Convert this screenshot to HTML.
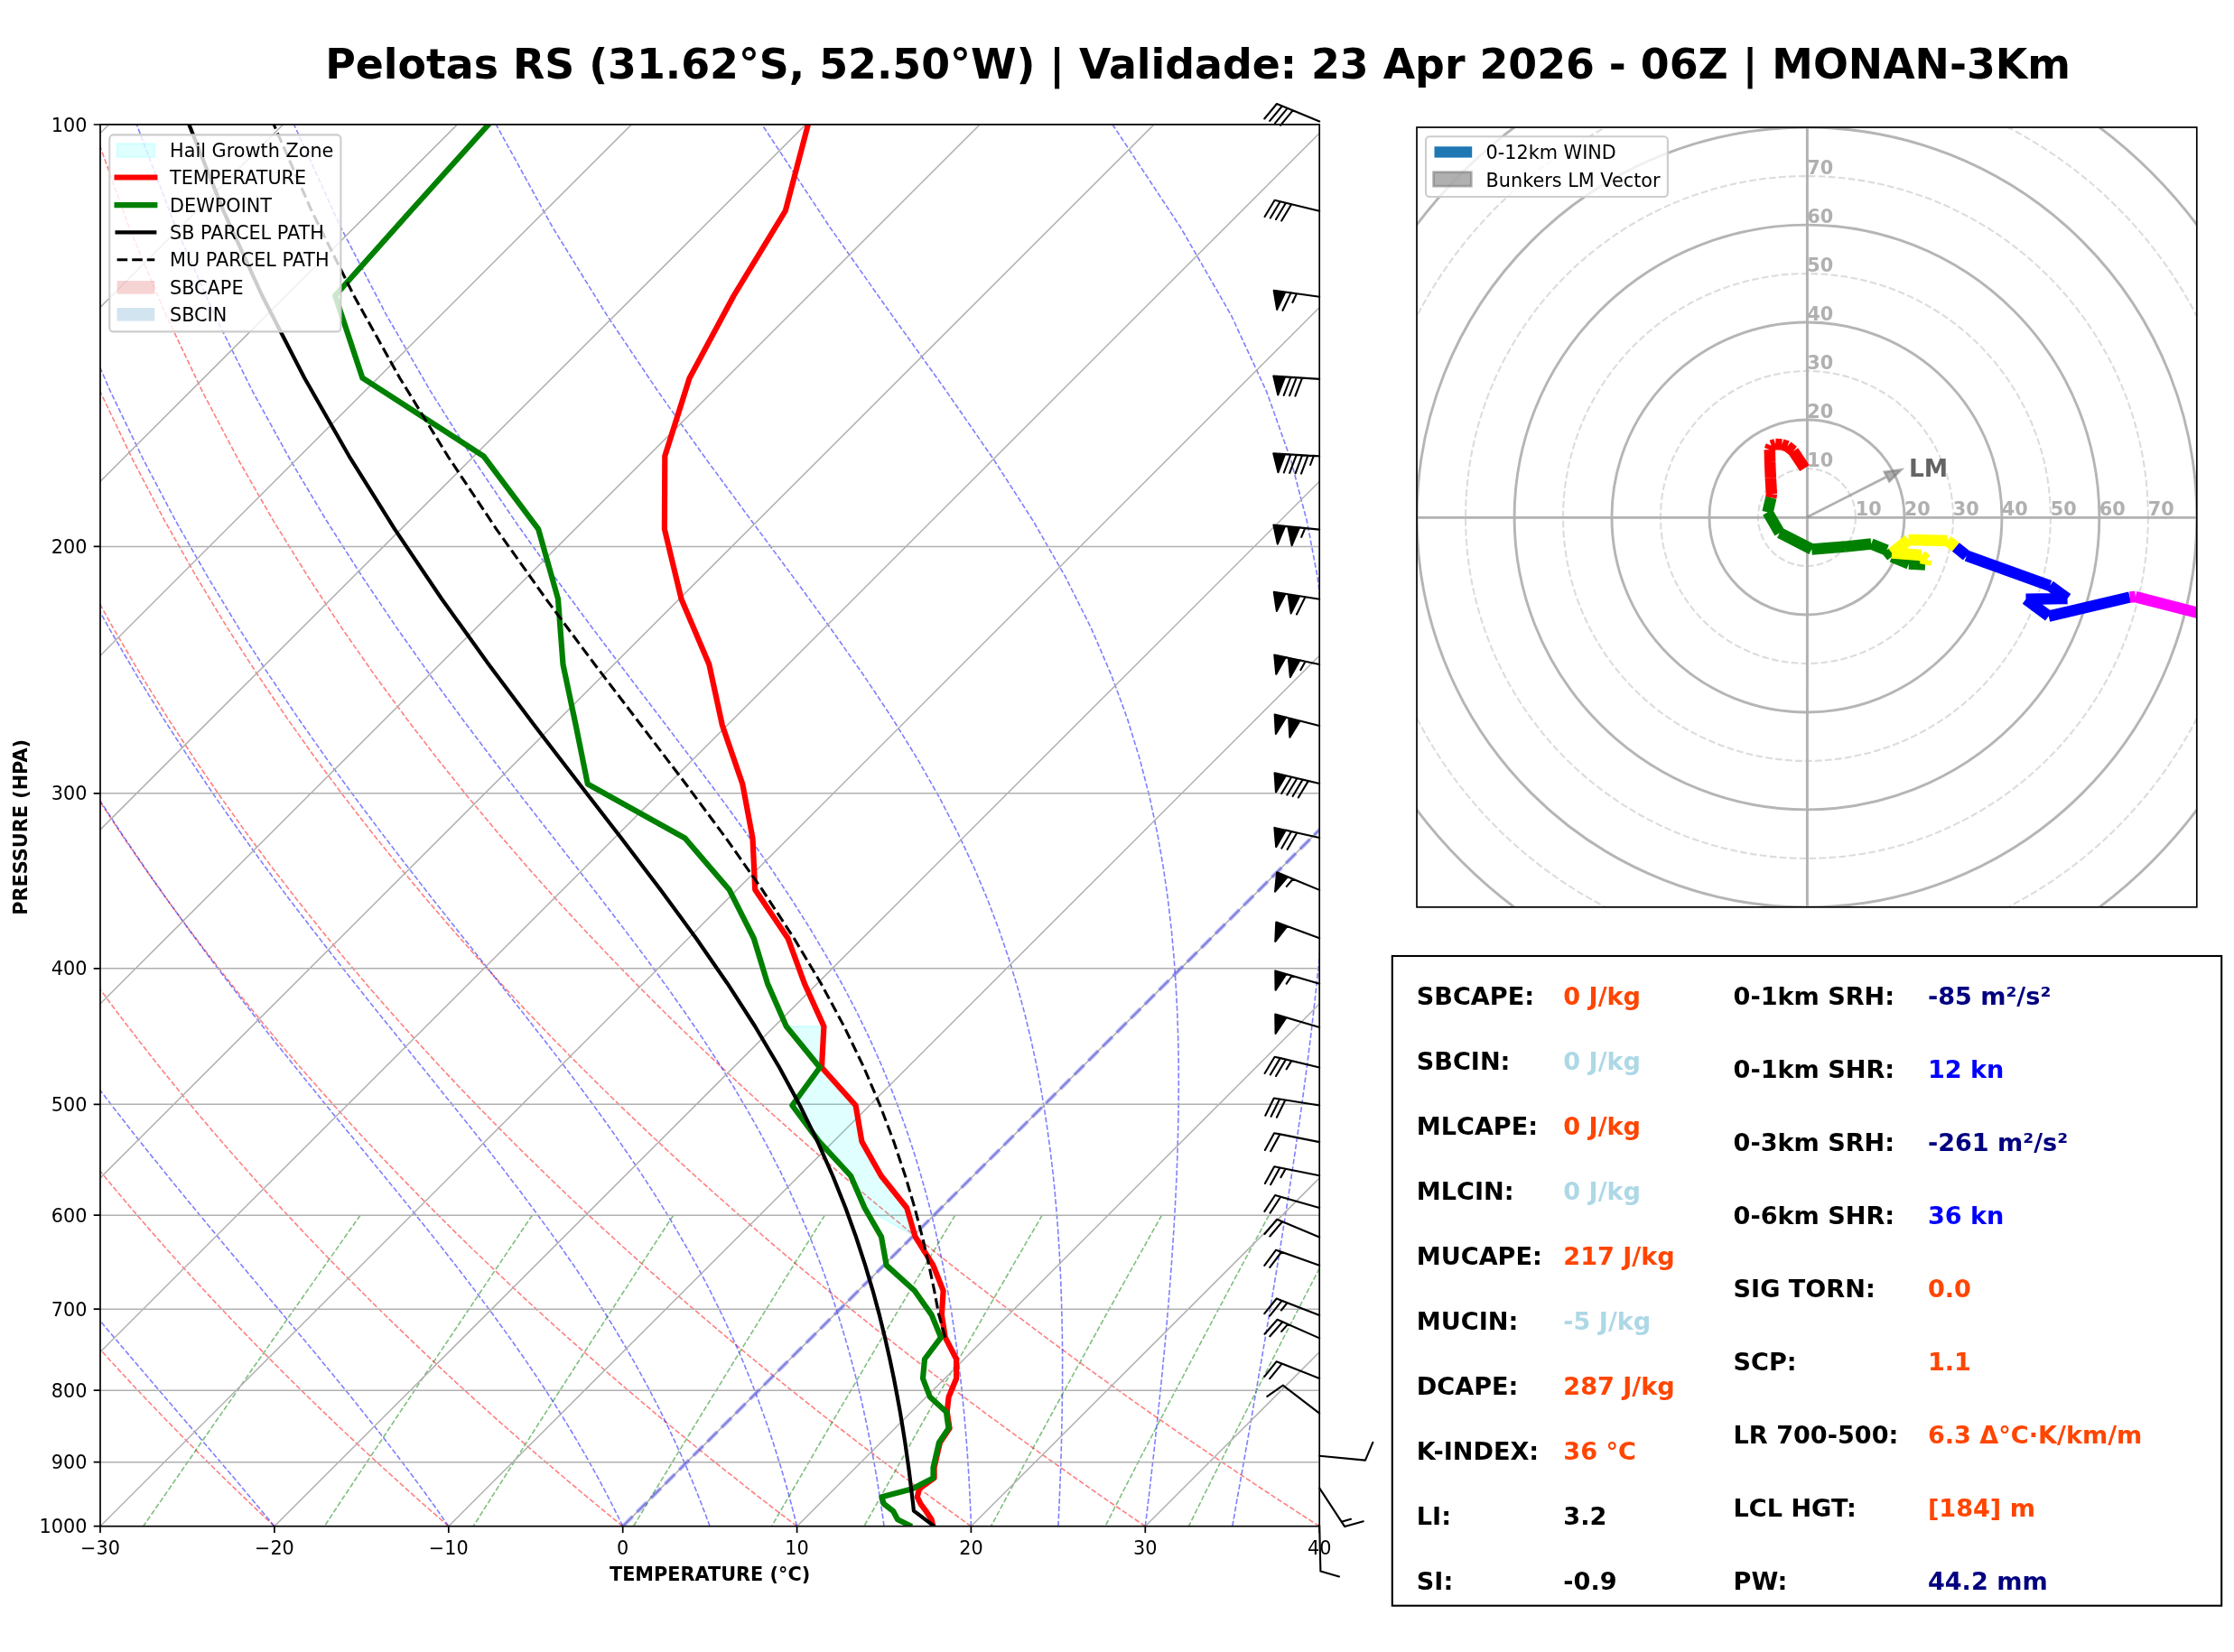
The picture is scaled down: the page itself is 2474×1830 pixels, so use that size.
<!DOCTYPE html><html><head><meta charset="utf-8"><style>html,body{margin:0;padding:0;background:#fff}svg{display:block;will-change:transform}text{font-family:"DejaVu Sans",sans-serif}</style></head><body>
<svg width="2474" height="1830" viewBox="0 0 2474 1830">
<rect width="2474" height="1830" fill="#fff"/>
<defs><clipPath id="sk"><rect x="111" y="137.9" width="1350.2" height="1552.8"/></clipPath></defs>
<g clip-path="url(#sk)">
<path d="M111 1690.7 L98.7 1678.2 L86.4 1665.5 L73.9 1652.5 L61.3 1639.2 L48.6 1625.7 L35.9 1612 L23 1597.9 L10 1583.5 L-3.1 1568.9 L-16.4 1553.8 L-29.7 1538.5 L-43.2 1522.8 L-56.7 1506.7 L-70.4 1490.2 L-84.3 1473.4 L-98.2 1456 L-112.3 1438.3 L-126.5 1420 L-140.8 1401.3 L-155.3 1382 L-170 1362.1 L-184.7 1341.6 L-199.6 1320.5 L-214.7 1298.7 L-229.9 1276.2 L-245.3 1252.9 L-260.8 1228.8 L-276.4 1203.7 L-292.2 1177.7 L-308.1 1150.7 L-324.2 1122.5 L-340.5 1093.1 L-356.9 1062.4 L-373.3 1030.2 L-390 996.4 L-406.7 960.8 L-423.5 923.2 L-440.3 883.4 L-457.2 841.1 L-474.1 795.9 L-490.8 747.5 L-507.4 695.4 L-523.7 638.9 L-539.5 577.3 L-554.5 509.4 L-568.5 433.9 L-580.9 348.9 L-590.9 251.7 L-597.1 138 M303.9 1690.7 L290.6 1678.2 L277.2 1665.5 L263.7 1652.5 L250 1639.2 L236.3 1625.7 L222.4 1612 L208.4 1597.9 L194.3 1583.5 L180 1568.9 L165.7 1553.8 L151.1 1538.5 L136.5 1522.8 L121.7 1506.7 L106.8 1490.2 L91.7 1473.4 L76.4 1456 L61 1438.3 L45.5 1420 L29.8 1401.3 L13.9 1382 L-2.1 1362.1 L-18.4 1341.6 L-34.8 1320.5 L-51.3 1298.7 L-68.1 1276.2 L-85 1252.9 L-102.2 1228.8 L-119.5 1203.7 L-137 1177.7 L-154.7 1150.7 L-172.6 1122.5 L-190.7 1093.1 L-209 1062.4 L-227.5 1030.2 L-246.2 996.4 L-265.1 960.8 L-284.1 923.2 L-303.3 883.4 L-322.6 841.1 L-342 795.9 L-361.5 747.5 L-380.9 695.4 L-400.1 638.9 L-419.1 577.3 L-437.6 509.4 L-455.3 433.9 L-471.7 348.9 L-486.1 251.7 L-497.2 138 M496.8 1690.7 L482.5 1678.2 L468 1665.5 L453.5 1652.5 L438.8 1639.2 L423.9 1625.7 L409 1612 L393.9 1597.9 L378.6 1583.5 L363.2 1568.9 L347.7 1553.8 L332 1538.5 L316.1 1522.8 L300.1 1506.7 L283.9 1490.2 L267.6 1473.4 L251.1 1456 L234.4 1438.3 L217.5 1420 L200.4 1401.3 L183.1 1382 L165.7 1362.1 L148 1341.6 L130.1 1320.5 L112 1298.7 L93.7 1276.2 L75.2 1252.9 L56.5 1228.8 L37.5 1203.7 L18.2 1177.7 L-1.3 1150.7 L-21 1122.5 L-41 1093.1 L-61.2 1062.4 L-81.7 1030.2 L-102.5 996.4 L-123.5 960.8 L-144.8 923.2 L-166.3 883.4 L-188.1 841.1 L-210 795.9 L-232.1 747.5 L-254.3 695.4 L-276.6 638.9 L-298.8 577.3 L-320.7 509.4 L-342 433.9 L-362.4 348.9 L-381.3 251.7 L-397.3 138 M689.7 1690.7 L674.3 1678.2 L658.9 1665.5 L643.3 1652.5 L627.5 1639.2 L611.6 1625.7 L595.5 1612 L579.3 1597.9 L562.9 1583.5 L546.4 1568.9 L529.7 1553.8 L512.8 1538.5 L495.8 1522.8 L478.5 1506.7 L461.1 1490.2 L443.5 1473.4 L425.7 1456 L407.7 1438.3 L389.5 1420 L371 1401.3 L352.4 1382 L333.5 1362.1 L314.4 1341.6 L295 1320.5 L275.4 1298.7 L255.6 1276.2 L235.4 1252.9 L215.1 1228.8 L194.4 1203.7 L173.4 1177.7 L152.2 1150.7 L130.6 1122.5 L108.8 1093.1 L86.6 1062.4 L64.1 1030.2 L41.2 996.4 L18 960.8 L-5.5 923.2 L-29.3 883.4 L-53.5 841.1 L-78 795.9 L-102.8 747.5 L-127.8 695.4 L-153.1 638.9 L-178.4 577.3 L-203.7 509.4 L-228.8 433.9 L-253.2 348.9 L-276.4 251.7 L-297.4 138 M882.6 1690.7 L866.2 1678.2 L849.7 1665.5 L833 1652.5 L816.2 1639.2 L799.2 1625.7 L782.1 1612 L764.8 1597.9 L747.3 1583.5 L729.6 1568.9 L711.7 1553.8 L693.7 1538.5 L675.4 1522.8 L657 1506.7 L638.3 1490.2 L619.4 1473.4 L600.3 1456 L581 1438.3 L561.5 1420 L541.7 1401.3 L521.6 1382 L501.3 1362.1 L480.8 1341.6 L459.9 1320.5 L438.8 1298.7 L417.4 1276.2 L395.7 1252.9 L373.7 1228.8 L351.3 1203.7 L328.6 1177.7 L305.6 1150.7 L282.2 1122.5 L258.5 1093.1 L234.4 1062.4 L209.9 1030.2 L185 996.4 L159.6 960.8 L133.9 923.2 L107.7 883.4 L81.1 841.1 L54 795.9 L26.6 747.5 L-1.3 695.4 L-29.5 638.9 L-58.1 577.3 L-86.8 509.4 L-115.5 433.9 L-144 348.9 L-171.6 251.7 L-197.5 138 M1075.4 1690.7 L1058.1 1678.2 L1040.5 1665.5 L1022.8 1652.5 L1005 1639.2 L986.9 1625.7 L968.7 1612 L950.2 1597.9 L931.6 1583.5 L912.8 1568.9 L893.8 1553.8 L874.5 1538.5 L855.1 1522.8 L835.4 1506.7 L815.5 1490.2 L795.3 1473.4 L775 1456 L754.3 1438.3 L733.4 1420 L712.3 1401.3 L690.9 1382 L669.1 1362.1 L647.1 1341.6 L624.8 1320.5 L602.2 1298.7 L579.2 1276.2 L555.9 1252.9 L532.3 1228.8 L508.2 1203.7 L483.8 1177.7 L459.1 1150.7 L433.9 1122.5 L408.2 1093.1 L382.2 1062.4 L355.7 1030.2 L328.7 996.4 L301.2 960.8 L273.2 923.2 L244.7 883.4 L215.7 841.1 L186.1 795.9 L155.9 747.5 L125.2 695.4 L94 638.9 L62.3 577.3 L30.1 509.4 L-2.3 433.9 L-34.7 348.9 L-66.7 251.7 L-97.6 138 M1268.3 1690.7 L1249.9 1678.2 L1231.4 1665.5 L1212.6 1652.5 L1193.7 1639.2 L1174.5 1625.7 L1155.2 1612 L1135.7 1597.9 L1115.9 1583.5 L1096 1568.9 L1075.8 1553.8 L1055.4 1538.5 L1034.7 1522.8 L1013.8 1506.7 L992.7 1490.2 L971.3 1473.4 L949.6 1456 L927.7 1438.3 L905.4 1420 L882.9 1401.3 L860.1 1382 L837 1362.1 L813.5 1341.6 L789.7 1320.5 L765.5 1298.7 L741 1276.2 L716.1 1252.9 L690.9 1228.8 L665.2 1203.7 L639.1 1177.7 L612.5 1150.7 L585.5 1122.5 L558 1093.1 L530 1062.4 L501.5 1030.2 L472.4 996.4 L442.8 960.8 L412.6 923.2 L381.7 883.4 L350.2 841.1 L318.1 795.9 L285.3 747.5 L251.7 695.4 L217.5 638.9 L182.6 577.3 L147.1 509.4 L111 433.9 L74.5 348.9 L38.1 251.7 L2.3 138 M1461.2 1690.7 L1441.8 1678.2 L1422.2 1665.5 L1402.4 1652.5 L1382.4 1639.2 L1362.2 1625.7 L1341.8 1612 L1321.1 1597.9 L1300.3 1583.5 L1279.1 1568.9 L1257.8 1553.8 L1236.2 1538.5 L1214.4 1522.8 L1192.2 1506.7 L1169.9 1490.2 L1147.2 1473.4 L1124.2 1456 L1101 1438.3 L1077.4 1420 L1053.5 1401.3 L1029.3 1382 L1004.8 1362.1 L979.9 1341.6 L954.6 1320.5 L928.9 1298.7 L902.8 1276.2 L876.4 1252.9 L849.5 1228.8 L822.1 1203.7 L794.3 1177.7 L765.9 1150.7 L737.1 1122.5 L707.7 1093.1 L677.8 1062.4 L647.3 1030.2 L616.1 996.4 L584.4 960.8 L551.9 923.2 L518.7 883.4 L484.8 841.1 L450.1 795.9 L414.6 747.5 L378.3 695.4 L341.1 638.9 L303 577.3 L264 509.4 L224.2 433.9 L183.8 348.9 L142.9 251.7 L102.2 138" fill="none" stroke="#f00" stroke-opacity="0.5" stroke-width="1.6" stroke-dasharray="5.8,2.5"/>
<path d="M111 1690.7 L100.1 1678.2 L89 1665.5 L77.7 1652.5 L66.2 1639.2 L54.5 1625.7 L42.6 1612 L30.5 1597.9 L18.3 1583.5 L5.8 1568.9 L-6.8 1553.8 L-19.6 1538.5 L-32.6 1522.8 L-45.8 1506.7 L-59.1 1490.2 L-72.7 1473.4 L-86.4 1456 L-100.2 1438.3 L-114.3 1420 L-128.5 1401.3 L-142.9 1382 L-157.5 1362.1 L-172.2 1341.6 L-187.1 1320.5 L-202.2 1298.7 L-217.4 1276.2 L-232.8 1252.9 L-248.4 1228.8 L-264.2 1203.7 L-280.1 1177.7 L-296.1 1150.7 L-312.3 1122.5 L-328.7 1093.1 L-345.2 1062.4 L-361.9 1030.2 L-378.6 996.4 L-395.5 960.8 L-412.5 923.2 L-429.5 883.4 L-446.6 841.1 L-463.6 795.9 L-480.6 747.5 L-497.4 695.4 L-513.9 638.9 L-530 577.3 L-545.3 509.4 L-559.6 433.9 L-572.3 348.9 L-582.6 251.7 L-589.2 138 M303.9 1690.7 L293.5 1678.2 L282.9 1665.5 L272 1652.5 L260.9 1639.2 L249.4 1625.7 L237.7 1612 L225.7 1597.9 L213.4 1583.5 L200.8 1568.9 L187.9 1553.8 L174.8 1538.5 L161.4 1522.8 L147.7 1506.7 L133.7 1490.2 L119.5 1473.4 L105 1456 L90.2 1438.3 L75.2 1420 L59.9 1401.3 L44.3 1382 L28.5 1362.1 L12.5 1341.6 L-3.8 1320.5 L-20.3 1298.7 L-37.1 1276.2 L-54.2 1252.9 L-71.4 1228.8 L-88.9 1203.7 L-106.6 1177.7 L-124.6 1150.7 L-142.8 1122.5 L-161.2 1093.1 L-179.9 1062.4 L-198.7 1030.2 L-217.8 996.4 L-237.1 960.8 L-256.6 923.2 L-276.2 883.4 L-296 841.1 L-315.9 795.9 L-335.9 747.5 L-355.8 695.4 L-375.7 638.9 L-395.3 577.3 L-414.4 509.4 L-432.9 433.9 L-450.1 348.9 L-465.3 251.7 L-477.4 138 M496.8 1690.7 L488.1 1678.2 L479.1 1665.5 L469.7 1652.5 L460 1639.2 L449.9 1625.7 L439.5 1612 L428.7 1597.9 L417.5 1583.5 L405.9 1568.9 L393.9 1553.8 L381.5 1538.5 L368.7 1522.8 L355.4 1506.7 L341.8 1490.2 L327.7 1473.4 L313.2 1456 L298.3 1438.3 L283 1420 L267.3 1401.3 L251.1 1382 L234.6 1362.1 L217.6 1341.6 L200.3 1320.5 L182.5 1298.7 L164.4 1276.2 L145.9 1252.9 L127.1 1228.8 L107.8 1203.7 L88.2 1177.7 L68.3 1150.7 L48 1122.5 L27.4 1093.1 L6.4 1062.4 L-14.8 1030.2 L-36.5 996.4 L-58.4 960.8 L-80.7 923.2 L-103.2 883.4 L-126.1 841.1 L-149.2 795.9 L-172.5 747.5 L-196 695.4 L-219.7 638.9 L-243.3 577.3 L-266.8 509.4 L-289.8 433.9 L-312.1 348.9 L-332.9 251.7 L-351.2 138 M689.7 1690.7 L683.6 1678.2 L677.2 1665.5 L670.5 1652.5 L663.4 1639.2 L656 1625.7 L648.3 1612 L640.1 1597.9 L631.6 1583.5 L622.6 1568.9 L613.2 1553.8 L603.2 1538.5 L592.8 1522.8 L581.9 1506.7 L570.4 1490.2 L558.4 1473.4 L545.8 1456 L532.6 1438.3 L518.7 1420 L504.3 1401.3 L489.2 1382 L473.4 1362.1 L457 1341.6 L439.9 1320.5 L422.1 1298.7 L403.7 1276.2 L384.6 1252.9 L364.8 1228.8 L344.5 1203.7 L323.5 1177.7 L301.8 1150.7 L279.6 1122.5 L256.8 1093.1 L233.4 1062.4 L209.5 1030.2 L185 996.4 L160.1 960.8 L134.5 923.2 L108.5 883.4 L82 841.1 L55 795.9 L27.6 747.5 L-0.3 695.4 L-28.5 638.9 L-57.1 577.3 L-85.8 509.4 L-114.6 433.9 L-143 348.9 L-170.7 251.7 L-196.6 138 M786.1 1690.7 L781.5 1678.2 L776.6 1665.5 L771.5 1652.5 L766.1 1639.2 L760.4 1625.7 L754.4 1612 L748 1597.9 L741.2 1583.5 L734.1 1568.9 L726.6 1553.8 L718.6 1538.5 L710.1 1522.8 L701.1 1506.7 L691.6 1490.2 L681.6 1473.4 L670.9 1456 L659.6 1438.3 L647.6 1420 L635 1401.3 L621.6 1382 L607.4 1362.1 L592.4 1341.6 L576.7 1320.5 L560 1298.7 L542.6 1276.2 L524.2 1252.9 L505 1228.8 L484.9 1203.7 L463.9 1177.7 L442.1 1150.7 L419.4 1122.5 L395.9 1093.1 L371.6 1062.4 L346.5 1030.2 L320.6 996.4 L294.1 960.8 L266.8 923.2 L238.8 883.4 L210.2 841.1 L180.9 795.9 L151 747.5 L120.5 695.4 L89.4 638.9 L57.8 577.3 L25.8 509.4 L-6.4 433.9 L-38.7 348.9 L-70.6 251.7 L-101.3 138 M882.6 1690.7 L879.4 1678.2 L876.1 1665.5 L872.6 1652.5 L868.8 1639.2 L864.9 1625.7 L860.6 1612 L856.2 1597.9 L851.4 1583.5 L846.3 1568.9 L840.8 1553.8 L835 1538.5 L828.8 1522.8 L822.2 1506.7 L815.1 1490.2 L807.5 1473.4 L799.3 1456 L790.6 1438.3 L781.3 1420 L771.3 1401.3 L760.5 1382 L749 1362.1 L736.6 1341.6 L723.4 1320.5 L709.2 1298.7 L694 1276.2 L677.8 1252.9 L660.5 1228.8 L642 1203.7 L622.4 1177.7 L601.6 1150.7 L579.5 1122.5 L556.3 1093.1 L531.9 1062.4 L506.3 1030.2 L479.6 996.4 L451.8 960.8 L422.9 923.2 L393.1 883.4 L362.2 841.1 L330.4 795.9 L297.7 747.5 L264.2 695.4 L229.9 638.9 L194.7 577.3 L158.9 509.4 L122.4 433.9 L85.6 348.9 L48.7 251.7 L12.4 138 M979 1690.7 L977.3 1678.2 L975.4 1665.5 L973.4 1652.5 L971.3 1639.2 L969 1625.7 L966.5 1612 L963.8 1597.9 L960.9 1583.5 L957.8 1568.9 L954.5 1553.8 L950.9 1538.5 L947 1522.8 L942.8 1506.7 L938.3 1490.2 L933.3 1473.4 L928 1456 L922.2 1438.3 L915.9 1420 L909.1 1401.3 L901.6 1382 L893.6 1362.1 L884.7 1341.6 L875.1 1320.5 L864.6 1298.7 L853.2 1276.2 L840.7 1252.9 L827.1 1228.8 L812.2 1203.7 L796 1177.7 L778.4 1150.7 L759.2 1122.5 L738.5 1093.1 L716.1 1062.4 L691.9 1030.2 L666.1 996.4 L638.5 960.8 L609.2 923.2 L578.2 883.4 L545.7 841.1 L511.6 795.9 L476.1 747.5 L439.3 695.4 L401.2 638.9 L361.9 577.3 L321.4 509.4 L279.9 433.9 L237.6 348.9 L194.5 251.7 L151.4 138 M1075.4 1690.7 L1075 1678.2 L1074.4 1665.5 L1073.8 1652.5 L1073.1 1639.2 L1072.3 1625.7 L1071.4 1612 L1070.4 1597.9 L1069.2 1583.5 L1068 1568.9 L1066.5 1553.8 L1065 1538.5 L1063.2 1522.8 L1061.3 1506.7 L1059.1 1490.2 L1056.7 1473.4 L1054.1 1456 L1051.1 1438.3 L1047.8 1420 L1044.2 1401.3 L1040.2 1382 L1035.7 1362.1 L1030.7 1341.6 L1025.1 1320.5 L1018.9 1298.7 L1012 1276.2 L1004.3 1252.9 L995.7 1228.8 L986 1203.7 L975.2 1177.7 L963.1 1150.7 L949.5 1122.5 L934.2 1093.1 L917.1 1062.4 L898 1030.2 L876.7 996.4 L853 960.8 L826.7 923.2 L797.8 883.4 L766.2 841.1 L732 795.9 L695.1 747.5 L655.8 695.4 L614.1 638.9 L570.4 577.3 L524.6 509.4 L477.1 433.9 L427.9 348.9 L377.3 251.7 L325.6 138 M1171.9 1690.7 L1172.5 1678.2 L1173.1 1665.5 L1173.6 1652.5 L1174.1 1639.2 L1174.6 1625.7 L1175.1 1612 L1175.5 1597.9 L1175.8 1583.5 L1176.1 1568.9 L1176.3 1553.8 L1176.5 1538.5 L1176.6 1522.8 L1176.6 1506.7 L1176.5 1490.2 L1176.3 1473.4 L1175.9 1456 L1175.4 1438.3 L1174.8 1420 L1173.9 1401.3 L1172.9 1382 L1171.6 1362.1 L1170 1341.6 L1168.2 1320.5 L1166 1298.7 L1163.3 1276.2 L1160.2 1252.9 L1156.6 1228.8 L1152.4 1203.7 L1147.4 1177.7 L1141.5 1150.7 L1134.7 1122.5 L1126.7 1093.1 L1117.4 1062.4 L1106.4 1030.2 L1093.6 996.4 L1078.6 960.8 L1060.9 923.2 L1040.3 883.4 L1016.2 841.1 L988.3 795.9 L956.1 747.5 L919.4 695.4 L878.2 638.9 L832.5 577.3 L782.6 509.4 L728.9 433.9 L671.9 348.9 L611.9 251.7 L549.4 138 M1268.3 1690.7 L1269.8 1678.2 L1271.3 1665.5 L1272.9 1652.5 L1274.4 1639.2 L1275.9 1625.7 L1277.5 1612 L1279 1597.9 L1280.6 1583.5 L1282.2 1568.9 L1283.7 1553.8 L1285.3 1538.5 L1286.9 1522.8 L1288.4 1506.7 L1290 1490.2 L1291.5 1473.4 L1293 1456 L1294.5 1438.3 L1295.9 1420 L1297.3 1401.3 L1298.6 1382 L1299.9 1362.1 L1301.1 1341.6 L1302.2 1320.5 L1303.2 1298.7 L1304 1276.2 L1304.6 1252.9 L1305.1 1228.8 L1305.3 1203.7 L1305.2 1177.7 L1304.7 1150.7 L1303.8 1122.5 L1302.3 1093.1 L1300.2 1062.4 L1297.3 1030.2 L1293.4 996.4 L1288.3 960.8 L1281.7 923.2 L1273.2 883.4 L1262.3 841.1 L1248.4 795.9 L1230.6 747.5 L1208.2 695.4 L1179.8 638.9 L1144.3 577.3 L1100.7 509.4 L1048.4 433.9 L987.6 348.9 L919 251.7 L843.9 138 M1364.8 1690.7 L1367 1678.2 L1369.2 1665.5 L1371.5 1652.5 L1373.9 1639.2 L1376.3 1625.7 L1378.7 1612 L1381.2 1597.9 L1383.7 1583.5 L1386.2 1568.9 L1388.8 1553.8 L1391.5 1538.5 L1394.2 1522.8 L1397 1506.7 L1399.8 1490.2 L1402.7 1473.4 L1405.6 1456 L1408.6 1438.3 L1411.6 1420 L1414.7 1401.3 L1417.8 1382 L1421 1362.1 L1424.2 1341.6 L1427.5 1320.5 L1430.8 1298.7 L1434.2 1276.2 L1437.5 1252.9 L1441 1228.8 L1444.4 1203.7 L1447.8 1177.7 L1451.2 1150.7 L1454.5 1122.5 L1457.8 1093.1 L1461 1062.4 L1464 1030.2 L1466.8 996.4 L1469.2 960.8 L1471.2 923.2 L1472.6 883.4 L1473.2 841.1 L1472.7 795.9 L1470.6 747.5 L1466.3 695.4 L1459 638.9 L1447.3 577.3 L1429.5 509.4 L1402.7 433.9 L1363.3 348.9 L1307.3 251.7 L1232.1 138 M1461.2 1690.7 L1464 1678.2 L1466.8 1665.5 L1469.7 1652.5 L1472.7 1639.2 L1475.7 1625.7 L1478.8 1612 L1482 1597.9 L1485.2 1583.5 L1488.6 1568.9 L1492 1553.8 L1495.5 1538.5 L1499 1522.8 L1502.7 1506.7 L1506.5 1490.2 L1510.3 1473.4 L1514.3 1456 L1518.4 1438.3 L1522.6 1420 L1526.9 1401.3 L1531.3 1382 L1535.8 1362.1 L1540.5 1341.6 L1545.4 1320.5 L1550.4 1298.7 L1555.5 1276.2 L1560.8 1252.9 L1566.2 1228.8 L1571.9 1203.7 L1577.7 1177.7 L1583.7 1150.7 L1590 1122.5 L1596.4 1093.1 L1603 1062.4 L1609.9 1030.2 L1617 996.4 L1624.3 960.8 L1631.8 923.2 L1639.5 883.4 L1647.3 841.1 L1655.3 795.9 L1663.3 747.5 L1671.2 695.4 L1678.7 638.9 L1685.5 577.3 L1691 509.4 L1694 433.9 L1692.6 348.9 L1683.1 251.7 L1658.5 138 M1557.7 1690.7 L1560.9 1678.2 L1564.1 1665.5 L1567.5 1652.5 L1570.9 1639.2 L1574.4 1625.7 L1578 1612 L1581.7 1597.9 L1585.5 1583.5 L1589.4 1568.9 L1593.4 1553.8 L1597.5 1538.5 L1601.7 1522.8 L1606 1506.7 L1610.5 1490.2 L1615.1 1473.4 L1619.8 1456 L1624.6 1438.3 L1629.7 1420 L1634.8 1401.3 L1640.2 1382 L1645.7 1362.1 L1651.4 1341.6 L1657.3 1320.5 L1663.5 1298.7 L1669.8 1276.2 L1676.4 1252.9 L1683.3 1228.8 L1690.4 1203.7 L1697.8 1177.7 L1705.6 1150.7 L1713.7 1122.5 L1722.2 1093.1 L1731 1062.4 L1740.3 1030.2 L1750.1 996.4 L1760.4 960.8 L1771.2 923.2 L1782.7 883.4 L1794.8 841.1 L1807.7 795.9 L1821.4 747.5 L1836 695.4 L1851.6 638.9 L1868.3 577.3 L1886.1 509.4 L1905.2 433.9 L1925.3 348.9 L1946.2 251.7 L1966.5 138 M1654.1 1690.7 L1657.6 1678.2 L1661.2 1665.5 L1664.9 1652.5 L1668.7 1639.2 L1672.5 1625.7 L1676.5 1612 L1680.5 1597.9 L1684.7 1583.5 L1689 1568.9 L1693.4 1553.8 L1697.9 1538.5 L1702.6 1522.8 L1707.4 1506.7 L1712.3 1490.2 L1717.4 1473.4 L1722.7 1456 L1728.1 1438.3 L1733.7 1420 L1739.5 1401.3 L1745.4 1382 L1751.6 1362.1 L1758 1341.6 L1764.7 1320.5 L1771.6 1298.7 L1778.8 1276.2 L1786.2 1252.9 L1794 1228.8 L1802.1 1203.7 L1810.6 1177.7 L1819.5 1150.7 L1828.8 1122.5 L1838.6 1093.1 L1848.8 1062.4 L1859.6 1030.2 L1871.1 996.4 L1883.2 960.8 L1896.1 923.2 L1909.8 883.4 L1924.4 841.1 L1940.1 795.9 L1957.1 747.5 L1975.4 695.4 L1995.4 638.9 L2017.2 577.3 L2041.3 509.4 L2068.1 433.9 L2098.3 348.9 L2132.5 251.7 L2172 138 M1750.5 1690.7 L1754.3 1678.2 L1758.1 1665.5 L1762 1652.5 L1766 1639.2 L1770.1 1625.7 L1774.3 1612 L1778.6 1597.9 L1783.1 1583.5 L1787.6 1568.9 L1792.3 1553.8 L1797.1 1538.5 L1802.1 1522.8 L1807.2 1506.7 L1812.5 1490.2 L1817.9 1473.4 L1823.5 1456 L1829.3 1438.3 L1835.2 1420 L1841.4 1401.3 L1847.8 1382 L1854.4 1362.1 L1861.3 1341.6 L1868.4 1320.5 L1875.9 1298.7 L1883.6 1276.2 L1891.6 1252.9 L1900 1228.8 L1908.7 1203.7 L1917.9 1177.7 L1927.5 1150.7 L1937.5 1122.5 L1948.1 1093.1 L1959.2 1062.4 L1971 1030.2 L1983.5 996.4 L1996.7 960.8 L2010.8 923.2 L2025.8 883.4 L2042 841.1 L2059.3 795.9 L2078.1 747.5 L2098.5 695.4 L2120.9 638.9 L2145.5 577.3 L2172.9 509.4 L2203.7 433.9 L2238.8 348.9 L2279.3 251.7 L2327.2 138 M1847 1690.7 L1850.8 1678.2 L1854.8 1665.5 L1858.8 1652.5 L1863 1639.2 L1867.2 1625.7 L1871.6 1612 L1876.1 1597.9 L1880.7 1583.5 L1885.4 1568.9 L1890.3 1553.8 L1895.3 1538.5 L1900.4 1522.8 L1905.7 1506.7 L1911.2 1490.2 L1916.8 1473.4 L1922.6 1456 L1928.7 1438.3 L1934.9 1420 L1941.3 1401.3 L1947.9 1382 L1954.8 1362.1 L1962 1341.6 L1969.4 1320.5 L1977.1 1298.7 L1985.2 1276.2 L1993.5 1252.9 L2002.3 1228.8 L2011.4 1203.7 L2021 1177.7 L2031 1150.7 L2041.5 1122.5 L2052.6 1093.1 L2064.2 1062.4 L2076.6 1030.2 L2089.6 996.4 L2103.5 960.8 L2118.3 923.2 L2134.1 883.4 L2151.1 841.1 L2169.4 795.9 L2189.2 747.5 L2210.8 695.4 L2234.5 638.9 L2260.6 577.3 L2289.8 509.4 L2322.7 433.9 L2360.2 348.9 L2403.9 251.7 L2455.8 138 M1943.4 1690.7 L1947.4 1678.2 L1951.4 1665.5 L1955.5 1652.5 L1959.7 1639.2 L1964 1625.7 L1968.5 1612 L1973.1 1597.9 L1977.7 1583.5 L1982.6 1568.9 L1987.5 1553.8 L1992.6 1538.5 L1997.9 1522.8 L2003.3 1506.7 L2008.8 1490.2 L2014.6 1473.4 L2020.5 1456 L2026.6 1438.3 L2033 1420 L2039.5 1401.3 L2046.3 1382 L2053.4 1362.1 L2060.7 1341.6 L2068.2 1320.5 L2076.1 1298.7 L2084.3 1276.2 L2092.9 1252.9 L2101.8 1228.8 L2111.1 1203.7 L2120.9 1177.7 L2131.1 1150.7 L2141.9 1122.5 L2153.2 1093.1 L2165.2 1062.4 L2177.8 1030.2 L2191.2 996.4 L2205.4 960.8 L2220.5 923.2 L2236.8 883.4 L2254.2 841.1 L2273 795.9 L2293.3 747.5 L2315.5 695.4 L2339.9 638.9 L2366.8 577.3 L2396.9 509.4 L2430.8 433.9 L2469.6 348.9 L2514.8 251.7 L2568.7 138 M2039.9 1690.7 L2043.8 1678.2 L2047.9 1665.5 L2052 1652.5 L2056.2 1639.2 L2060.6 1625.7 L2065 1612 L2069.6 1597.9 L2074.3 1583.5 L2079.2 1568.9 L2084.2 1553.8 L2089.3 1538.5 L2094.5 1522.8 L2100 1506.7 L2105.6 1490.2 L2111.4 1473.4 L2117.3 1456 L2123.5 1438.3 L2129.9 1420 L2136.5 1401.3 L2143.3 1382 L2150.4 1362.1 L2157.7 1341.6 L2165.3 1320.5 L2173.3 1298.7 L2181.5 1276.2 L2190.2 1252.9 L2199.2 1228.8 L2208.6 1203.7 L2218.4 1177.7 L2228.7 1150.7 L2239.6 1122.5 L2251 1093.1 L2263 1062.4 L2275.7 1030.2 L2289.2 996.4 L2303.6 960.8 L2318.9 923.2 L2335.3 883.4 L2352.9 841.1 L2371.8 795.9 L2392.4 747.5 L2414.8 695.4 L2439.5 638.9 L2466.7 577.3 L2497.2 509.4 L2531.5 433.9 L2570.8 348.9 L2616.7 251.7 L2671.3 138 M2136.3 1690.7 L2140.2 1678.2 L2144.2 1665.5 L2148.3 1652.5 L2152.6 1639.2 L2156.9 1625.7 L2161.3 1612 L2165.9 1597.9 L2170.6 1583.5 L2175.4 1568.9 L2180.3 1553.8 L2185.4 1538.5 L2190.6 1522.8 L2196.1 1506.7 L2201.6 1490.2 L2207.4 1473.4 L2213.3 1456 L2219.4 1438.3 L2225.8 1420 L2232.3 1401.3 L2239.1 1382 L2246.2 1362.1 L2253.5 1341.6 L2261.1 1320.5 L2269 1298.7 L2277.3 1276.2 L2285.8 1252.9 L2294.8 1228.8 L2304.2 1203.7 L2314 1177.7 L2324.3 1150.7 L2335.1 1122.5 L2346.5 1093.1 L2358.5 1062.4 L2371.2 1030.2 L2384.7 996.4 L2399 960.8 L2414.3 923.2 L2430.6 883.4 L2448.2 841.1 L2467.2 795.9 L2487.7 747.5 L2510.2 695.4 L2534.8 638.9 L2562.1 577.3 L2592.5 509.4 L2626.9 433.9 L2666.3 348.9 L2712.2 251.7 L2767 138 M2232.8 1690.7 L2236.6 1678.2 L2240.6 1665.5 L2244.6 1652.5 L2248.7 1639.2 L2253 1625.7 L2257.4 1612 L2261.9 1597.9 L2266.5 1583.5 L2271.2 1568.9 L2276.1 1553.8 L2281.1 1538.5 L2286.3 1522.8 L2291.6 1506.7 L2297.1 1490.2 L2302.8 1473.4 L2308.6 1456 L2314.7 1438.3 L2320.9 1420 L2327.4 1401.3 L2334.1 1382 L2341.1 1362.1 L2348.3 1341.6 L2355.8 1320.5 L2363.6 1298.7 L2371.8 1276.2 L2380.2 1252.9 L2389.1 1228.8 L2398.4 1203.7 L2408.1 1177.7 L2418.2 1150.7 L2428.9 1122.5 L2440.2 1093.1 L2452.1 1062.4 L2464.7 1030.2 L2478 996.4 L2492.2 960.8 L2507.4 923.2 L2523.6 883.4 L2541 841.1 L2559.8 795.9 L2580.2 747.5 L2602.4 695.4 L2626.9 638.9 L2653.9 577.3 L2684.2 509.4 L2718.4 433.9 L2757.5 348.9 L2803.2 251.7 L2857.6 138 M2329.2 1690.7 L2333 1678.2 L2336.8 1665.5 L2340.8 1652.5 L2344.8 1639.2 L2349 1625.7 L2353.2 1612 L2357.6 1597.9 L2362.1 1583.5 L2366.8 1568.9 L2371.5 1553.8 L2376.4 1538.5 L2381.5 1522.8 L2386.7 1506.7 L2392.1 1490.2 L2397.6 1473.4 L2403.4 1456 L2409.3 1438.3 L2415.4 1420 L2421.8 1401.3 L2428.4 1382 L2435.2 1362.1 L2442.3 1341.6 L2449.6 1320.5 L2457.3 1298.7 L2465.3 1276.2 L2473.6 1252.9 L2482.3 1228.8 L2491.4 1203.7 L2500.9 1177.7 L2511 1150.7 L2521.5 1122.5 L2532.6 1093.1 L2544.2 1062.4 L2556.6 1030.2 L2569.8 996.4 L2583.7 960.8 L2598.6 923.2 L2614.6 883.4 L2631.8 841.1 L2650.3 795.9 L2670.4 747.5 L2692.4 695.4 L2716.5 638.9 L2743.2 577.3 L2773.1 509.4 L2806.8 433.9 L2845.5 348.9 L2890.7 251.7 L2944.6 138 M2425.7 1690.7 L2429.3 1678.2 L2433 1665.5 L2436.9 1652.5 L2440.8 1639.2 L2444.8 1625.7 L2448.9 1612 L2453.2 1597.9 L2457.6 1583.5 L2462.1 1568.9 L2466.7 1553.8 L2471.5 1538.5 L2476.4 1522.8 L2481.5 1506.7 L2486.7 1490.2 L2492.1 1473.4 L2497.7 1456 L2503.5 1438.3 L2509.4 1420 L2515.6 1401.3 L2522 1382 L2528.7 1362.1 L2535.6 1341.6 L2542.8 1320.5 L2550.2 1298.7 L2558 1276.2 L2566.2 1252.9 L2574.7 1228.8 L2583.5 1203.7 L2592.9 1177.7 L2602.6 1150.7 L2612.9 1122.5 L2623.8 1093.1 L2635.2 1062.4 L2647.3 1030.2 L2660.2 996.4 L2673.9 960.8 L2688.5 923.2 L2704.1 883.4 L2721 841.1 L2739.1 795.9 L2758.9 747.5 L2780.4 695.4 L2804.1 638.9 L2830.4 577.3 L2859.8 509.4 L2893 433.9 L2931.1 348.9 L2975.6 251.7 L3028.7 138" fill="none" stroke="#00f" stroke-opacity="0.5" stroke-width="1.6" stroke-dasharray="5.8,2.5"/>
<path d="M399 1346.2 L392.6 1355.3 L386.2 1364.3 L380 1373.2 L373.8 1382 L367.7 1390.6 L361.7 1399.1 L355.8 1407.6 L350 1415.9 L344.2 1424.1 L338.5 1432.2 L332.9 1440.3 L327.3 1448.2 L321.8 1456 L316.4 1463.8 L311 1471.5 L305.7 1479 L300.5 1486.5 L295.3 1493.9 L290.2 1501.3 L285.1 1508.5 L280.1 1515.7 L275.1 1522.8 L270.3 1529.8 L265.4 1536.8 L260.6 1543.7 L255.9 1550.5 L251.2 1557.2 L246.5 1563.9 L241.9 1570.5 L237.4 1577 L232.9 1583.5 L228.4 1590 L224 1596.3 L219.6 1602.6 L215.3 1608.9 L211 1615 L206.7 1621.2 L202.5 1627.3 L198.4 1633.3 L194.2 1639.2 L190.1 1645.2 L186.1 1651 L182.1 1656.8 L178.1 1662.6 L174.1 1668.3 L170.2 1674 L166.3 1679.6 L162.5 1685.2 L158.7 1690.7 M589.5 1346.2 L583.3 1355.3 L577.2 1364.3 L571.2 1373.2 L565.3 1382 L559.5 1390.6 L553.7 1399.1 L548 1407.6 L542.4 1415.9 L536.9 1424.1 L531.4 1432.2 L526 1440.3 L520.7 1448.2 L515.4 1456 L510.2 1463.8 L505.1 1471.5 L500 1479 L495 1486.5 L490 1493.9 L485.1 1501.3 L480.3 1508.5 L475.5 1515.7 L470.7 1522.8 L466 1529.8 L461.4 1536.8 L456.8 1543.7 L452.3 1550.5 L447.8 1557.2 L443.3 1563.9 L438.9 1570.5 L434.6 1577 L430.2 1583.5 L426 1590 L421.8 1596.3 L417.6 1602.6 L413.4 1608.9 L409.3 1615 L405.2 1621.2 L401.2 1627.3 L397.2 1633.3 L393.3 1639.2 L389.4 1645.2 L385.5 1651 L381.6 1656.8 L377.8 1662.6 L374.1 1668.3 L370.3 1674 L366.6 1679.6 L362.9 1685.2 L359.3 1690.7 M745.7 1346.2 L739.7 1355.3 L733.9 1364.3 L728.1 1373.2 L722.4 1382 L716.8 1390.6 L711.2 1399.1 L705.7 1407.6 L700.3 1415.9 L695 1424.1 L689.7 1432.2 L684.5 1440.3 L679.4 1448.2 L674.3 1456 L669.3 1463.8 L664.4 1471.5 L659.5 1479 L654.6 1486.5 L649.9 1493.9 L645.1 1501.3 L640.5 1508.5 L635.8 1515.7 L631.3 1522.8 L626.8 1529.8 L622.3 1536.8 L617.9 1543.7 L613.5 1550.5 L609.2 1557.2 L604.9 1563.9 L600.7 1570.5 L596.5 1577 L592.3 1583.5 L588.2 1590 L584.2 1596.3 L580.1 1602.6 L576.2 1608.9 L572.2 1615 L568.3 1621.2 L564.4 1627.3 L560.6 1633.3 L556.8 1639.2 L553 1645.2 L549.3 1651 L545.6 1656.8 L542 1662.6 L538.3 1668.3 L534.7 1674 L531.2 1679.6 L527.6 1685.2 L524.1 1690.7 M913.4 1346.2 L907.7 1355.3 L902.1 1364.3 L896.5 1373.2 L891.1 1382 L885.7 1390.6 L880.3 1399.1 L875.1 1407.6 L869.9 1415.9 L864.8 1424.1 L859.8 1432.2 L854.8 1440.3 L849.9 1448.2 L845 1456 L840.2 1463.8 L835.5 1471.5 L830.8 1479 L826.2 1486.5 L821.6 1493.9 L817.1 1501.3 L812.6 1508.5 L808.2 1515.7 L803.8 1522.8 L799.5 1529.8 L795.3 1536.8 L791 1543.7 L786.9 1550.5 L782.7 1557.2 L778.6 1563.9 L774.6 1570.5 L770.6 1577 L766.6 1583.5 L762.7 1590 L758.8 1596.3 L755 1602.6 L751.2 1608.9 L747.4 1615 L743.7 1621.2 L740 1627.3 L736.3 1633.3 L732.7 1639.2 L729.1 1645.2 L725.5 1651 L722 1656.8 L718.5 1662.6 L715.1 1668.3 L711.6 1674 L708.2 1679.6 L704.9 1685.2 L701.5 1690.7 M1057.8 1346.2 L1052.3 1355.3 L1046.9 1364.3 L1041.6 1373.2 L1036.3 1382 L1031.1 1390.6 L1026 1399.1 L1021 1407.6 L1016 1415.9 L1011.1 1424.1 L1006.3 1432.2 L1001.5 1440.3 L996.8 1448.2 L992.1 1456 L987.5 1463.8 L982.9 1471.5 L978.5 1479 L974 1486.5 L969.6 1493.9 L965.3 1501.3 L961 1508.5 L956.8 1515.7 L952.6 1522.8 L948.4 1529.8 L944.3 1536.8 L940.3 1543.7 L936.3 1550.5 L932.3 1557.2 L928.4 1563.9 L924.5 1570.5 L920.7 1577 L916.9 1583.5 L913.1 1590 L909.4 1596.3 L905.7 1602.6 L902.1 1608.9 L898.5 1615 L894.9 1621.2 L891.4 1627.3 L887.9 1633.3 L884.4 1639.2 L881 1645.2 L877.5 1651 L874.2 1656.8 L870.8 1662.6 L867.5 1668.3 L864.2 1674 L861 1679.6 L857.8 1685.2 L854.6 1690.7 M1154.2 1346.2 L1148.9 1355.3 L1143.6 1364.3 L1138.4 1373.2 L1133.3 1382 L1128.3 1390.6 L1123.3 1399.1 L1118.4 1407.6 L1113.6 1415.9 L1108.8 1424.1 L1104.1 1432.2 L1099.5 1440.3 L1094.9 1448.2 L1090.3 1456 L1085.9 1463.8 L1081.5 1471.5 L1077.1 1479 L1072.8 1486.5 L1068.5 1493.9 L1064.3 1501.3 L1060.1 1508.5 L1056 1515.7 L1052 1522.8 L1047.9 1529.8 L1044 1536.8 L1040 1543.7 L1036.2 1550.5 L1032.3 1557.2 L1028.5 1563.9 L1024.7 1570.5 L1021 1577 L1017.3 1583.5 L1013.7 1590 L1010.1 1596.3 L1006.5 1602.6 L1003 1608.9 L999.5 1615 L996 1621.2 L992.6 1627.3 L989.2 1633.3 L985.8 1639.2 L982.5 1645.2 L979.2 1651 L975.9 1656.8 L972.7 1662.6 L969.5 1668.3 L966.3 1674 L963.1 1679.6 L960 1685.2 L956.9 1690.7 M1286.5 1346.2 L1281.4 1355.3 L1276.3 1364.3 L1271.4 1373.2 L1266.5 1382 L1261.6 1390.6 L1256.9 1399.1 L1252.1 1407.6 L1247.5 1415.9 L1242.9 1424.1 L1238.4 1432.2 L1234 1440.3 L1229.6 1448.2 L1225.2 1456 L1220.9 1463.8 L1216.7 1471.5 L1212.5 1479 L1208.4 1486.5 L1204.3 1493.9 L1200.3 1501.3 L1196.3 1508.5 L1192.3 1515.7 L1188.4 1522.8 L1184.6 1529.8 L1180.8 1536.8 L1177 1543.7 L1173.3 1550.5 L1169.6 1557.2 L1166 1563.9 L1162.4 1570.5 L1158.8 1577 L1155.3 1583.5 L1151.8 1590 L1148.3 1596.3 L1144.9 1602.6 L1141.5 1608.9 L1138.2 1615 L1134.9 1621.2 L1131.6 1627.3 L1128.4 1633.3 L1125.1 1639.2 L1122 1645.2 L1118.8 1651 L1115.7 1656.8 L1112.6 1662.6 L1109.5 1668.3 L1106.5 1674 L1103.5 1679.6 L1100.5 1685.2 L1097.5 1690.7 M1405.3 1346.2 L1400.3 1355.3 L1395.5 1364.3 L1390.7 1373.2 L1386 1382 L1381.3 1390.6 L1376.8 1399.1 L1372.2 1407.6 L1367.8 1415.9 L1363.4 1424.1 L1359 1432.2 L1354.8 1440.3 L1350.5 1448.2 L1346.4 1456 L1342.2 1463.8 L1338.2 1471.5 L1334.2 1479 L1330.2 1486.5 L1326.3 1493.9 L1322.4 1501.3 L1318.6 1508.5 L1314.8 1515.7 L1311.1 1522.8 L1307.4 1529.8 L1303.7 1536.8 L1300.1 1543.7 L1296.5 1550.5 L1293 1557.2 L1289.5 1563.9 L1286.1 1570.5 L1282.6 1577 L1279.3 1583.5 L1275.9 1590 L1272.6 1596.3 L1269.3 1602.6 L1266.1 1608.9 L1262.9 1615 L1259.7 1621.2 L1256.6 1627.3 L1253.5 1633.3 L1250.4 1639.2 L1247.3 1645.2 L1244.3 1651 L1241.3 1656.8 L1238.4 1662.6 L1235.4 1668.3 L1232.5 1674 L1229.7 1679.6 L1226.8 1685.2 L1224 1690.7 M1492 1346.2 L1487.2 1355.3 L1482.5 1364.3 L1477.8 1373.2 L1473.2 1382 L1468.7 1390.6 L1464.3 1399.1 L1459.9 1407.6 L1455.6 1415.9 L1451.3 1424.1 L1447.1 1432.2 L1442.9 1440.3 L1438.8 1448.2 L1434.8 1456 L1430.8 1463.8 L1426.9 1471.5 L1423 1479 L1419.1 1486.5 L1415.3 1493.9 L1411.6 1501.3 L1407.9 1508.5 L1404.2 1515.7 L1400.6 1522.8 L1397 1529.8 L1393.5 1536.8 L1390 1543.7 L1386.5 1550.5 L1383.1 1557.2 L1379.7 1563.9 L1376.4 1570.5 L1373.1 1577 L1369.8 1583.5 L1366.6 1590 L1363.4 1596.3 L1360.2 1602.6 L1357.1 1608.9 L1354 1615 L1350.9 1621.2 L1347.9 1627.3 L1344.9 1633.3 L1341.9 1639.2 L1339 1645.2 L1336 1651 L1333.1 1656.8 L1330.3 1662.6 L1327.5 1668.3 L1324.6 1674 L1321.9 1679.6 L1319.1 1685.2 L1316.4 1690.7" fill="none" stroke="#008000" stroke-opacity="0.5" stroke-width="1.6" stroke-dasharray="5.8,2.5"/>
<path d="M-1625 1690.7 L-72.2 137.9 M-1432.1 1690.7 L120.6 137.9 M-1239.2 1690.7 L313.5 137.9 M-1046.3 1690.7 L506.4 137.9 M-853.4 1690.7 L699.3 137.9 M-660.6 1690.7 L892.2 137.9 M-467.7 1690.7 L1085.1 137.9 M-274.8 1690.7 L1278 137.9 M-81.9 1690.7 L1470.9 137.9 M111 1690.7 L1663.8 137.9 M303.9 1690.7 L1856.6 137.9 M496.8 1690.7 L2049.5 137.9 M689.7 1690.7 L2242.4 137.9 M882.6 1690.7 L2435.3 137.9 M1075.4 1690.7 L2628.2 137.9 M1268.3 1690.7 L2821.1 137.9 M1461.2 1690.7 L3014 137.9 M111 138 L1461.2 138 M111 605.4 L1461.2 605.4 M111 878.8 L1461.2 878.8 M111 1072.8 L1461.2 1072.8 M111 1223.3 L1461.2 1223.3 M111 1346.2 L1461.2 1346.2 M111 1450.2 L1461.2 1450.2 M111 1540.2 L1461.2 1540.2 M111 1619.7 L1461.2 1619.7 M111 1690.7 L1461.2 1690.7" fill="none" stroke="#b0b0b0" stroke-width="1.5"/>
<path d="M912.4 1137 L910 1182.5 L947.6 1224.5 L954.4 1264.6 L975.8 1302.5 L1004.2 1338 L1013.6 1370 L957.5 1338 L942.1 1302.5 L907.2 1264.6 L877.3 1224.5 L907.9 1182.5 L870.8 1137 Z" fill="#00ffff" fill-opacity="0.12" stroke="#00ffff" stroke-opacity="0.12" stroke-width="2.1"/>
<path d="M689.7 1690.7 L2242.4 137.9" fill="none" stroke="#00f" stroke-opacity="0.3" stroke-width="4.2" stroke-dasharray="15.4,6.7"/>
<path d="M895.8 134.5 L869.8 233.5 L812.6 327.5 L763.6 418.7 L736.3 505.3 L735.9 586.1 L754.5 663.5 L785.3 736 L799.9 803.5 L822.3 868.5 L833.5 928.5 L836.2 985.4 L872.6 1039.5 L890.8 1089.2 L912.4 1137 L910 1182.5 L947.6 1224.5 L954.4 1264.6 L975.8 1302.5 L1004.2 1338 L1013.6 1370 L1033.4 1401.6 L1044.6 1429.8 L1042.9 1456.4 L1046.8 1481.6 L1059.1 1505.5 L1059.1 1527 L1050.6 1547.5 L1048.8 1564 L1051.6 1582.2 L1041 1598 L1034.6 1625.6 L1034.6 1637.3 L1018 1649.2 L1015.8 1658.2 L1019.5 1665.8 L1025.5 1674 L1031.6 1683.2 L1033.1 1689.6" fill="none" stroke="#f00" stroke-width="6.2" stroke-linejoin="round" stroke-linecap="square"/>
<path d="M544 134.5 L455 233.5 L371.2 327.5 L401.4 418.7 L535.6 505.3 L596.2 586.1 L618 663.5 L623.5 736 L637.7 803.5 L650.8 868.5 L758.6 928.5 L807.5 985.4 L834.8 1039.5 L849.9 1089.2 L870.8 1137 L907.9 1182.5 L877.3 1224.5 L907.2 1264.6 L942.1 1302.5 L957.5 1338 L976 1370 L981.7 1401.6 L1012.8 1429.8 L1031.6 1456.4 L1042 1481.6 L1024 1505.5 L1022 1527 L1029.9 1547.5 L1047.9 1564 L1050.5 1582.2 L1039.9 1598 L1033.5 1625.6 L1033.5 1637.3 L1010.4 1649.2 L976.4 1658.2 L978.7 1665.8 L989.2 1674 L994.1 1683.2 L1007 1689.6" fill="none" stroke="#008000" stroke-width="6.2" stroke-linejoin="round" stroke-linecap="square"/>
<path d="M1033.1 1689.6 L1011.9 1673.6 L1011.1 1665.8 L1010.2 1658.2 L1009.1 1649.2 L1007.7 1637.3 L1006.2 1625.6 L1002.3 1598 L999.8 1582.2 L996.8 1564 L993.8 1547.5 L989.9 1527 L985.4 1505.5 L980 1481.6 L973.8 1456.4 L966.6 1429.8 L958.2 1401.6 L947.9 1370 L936.4 1338 L922.2 1302.5 L905.4 1264.6 L885.8 1224.5 L863.1 1182.5 L836.2 1137 L805.4 1089.2 L771 1039.5 L731.4 985.4 L688.1 928.5 L641.7 868.5 L591.8 803.5 L541.2 736 L489.2 663.5 L437.1 586.1 L386.6 505.3 L337.2 418.7 L290.3 327.5 L247.4 233.5 L208 134.5" fill="none" stroke="#000" stroke-width="4.2" stroke-linejoin="round" stroke-linecap="square"/>
<path d="M1046.8 1481.6 L1039.7 1456.4 L1034.7 1429.8 L1028.8 1401.6 L1021.4 1370 L1013 1338 L1002.5 1302.5 L989.8 1264.6 L974.6 1224.5 L956.7 1182.5 L934.8 1137 L909.1 1089.2 L879.4 1039.5 L844 985.4 L804 928.5 L759.5 868.5 L710.1 803.5 L658.6 736 L604.7 663.5 L549.7 586.1 L495.9 505.3 L442.7 418.7 L391.9 327.5 L345.1 233.5 L301.7 134.5" fill="none" stroke="#000" stroke-width="3.1" stroke-linejoin="round" stroke-dasharray="11.6,5"/>
</g>
<rect x="111" y="137.9" width="1350.2" height="1552.8" fill="none" stroke="#000" stroke-width="1.7"/>
<path d="M103.7 138 H111 M103.7 605.4 H111 M103.7 878.8 H111 M103.7 1072.8 H111 M103.7 1223.3 H111 M103.7 1346.2 H111 M103.7 1450.2 H111 M103.7 1540.2 H111 M103.7 1619.7 H111 M103.7 1690.7 H111 M111 1690.7 V1698 M303.9 1690.7 V1698 M496.8 1690.7 V1698 M689.7 1690.7 V1698 M882.6 1690.7 V1698 M1075.4 1690.7 V1698 M1268.3 1690.7 V1698 M1461.2 1690.7 V1698" stroke="#000" stroke-width="1.7"/>
<text x="96.4" y="145.6" font-size="20.8" text-anchor="end">100</text>
<text x="96.4" y="613" font-size="20.8" text-anchor="end">200</text>
<text x="96.4" y="886.4" font-size="20.8" text-anchor="end">300</text>
<text x="96.4" y="1080.4" font-size="20.8" text-anchor="end">400</text>
<text x="96.4" y="1230.9" font-size="20.8" text-anchor="end">500</text>
<text x="96.4" y="1353.8" font-size="20.8" text-anchor="end">600</text>
<text x="96.4" y="1457.8" font-size="20.8" text-anchor="end">700</text>
<text x="96.4" y="1547.8" font-size="20.8" text-anchor="end">800</text>
<text x="96.4" y="1627.3" font-size="20.8" text-anchor="end">900</text>
<text x="96.4" y="1698.3" font-size="20.8" text-anchor="end">1000</text>
<text x="111" y="1721.7" font-size="20.8" text-anchor="middle">−30</text>
<text x="303.9" y="1721.7" font-size="20.8" text-anchor="middle">−20</text>
<text x="496.8" y="1721.7" font-size="20.8" text-anchor="middle">−10</text>
<text x="689.7" y="1721.7" font-size="20.8" text-anchor="middle">0</text>
<text x="882.6" y="1721.7" font-size="20.8" text-anchor="middle">10</text>
<text x="1075.4" y="1721.7" font-size="20.8" text-anchor="middle">20</text>
<text x="1268.3" y="1721.7" font-size="20.8" text-anchor="middle">30</text>
<text x="1461.2" y="1721.7" font-size="20.8" text-anchor="middle">40</text>
<text x="786.1" y="1750.9" font-size="20.8" font-weight="bold" text-anchor="middle">TEMPERATURE (°C)</text>
<text transform="translate(29.9 916.3) rotate(-90)" font-size="20.8" font-weight="bold" text-anchor="middle">PRESSURE (HPA)</text>
<rect x="121.3" y="149.4" width="256.1" height="218.0" rx="4.2" fill="#fff" fill-opacity="0.8" stroke="#cccccc" stroke-width="2.08"/>
<rect x="129.6" y="159.2" width="41.7" height="14.6" fill="#00ffff" fill-opacity="0.12" stroke="#00ffff" stroke-opacity="0.12" stroke-width="2.08"/>
<text x="188.0" y="174.1" font-size="20.8">Hail Growth Zone</text>
<path d="M129.6 196.5 H171.3" stroke="#f00" stroke-width="6.2" stroke-linecap="square"/>
<text x="188.0" y="204.1" font-size="20.8">TEMPERATURE</text>
<path d="M129.6 227.2 H171.3" stroke="#008000" stroke-width="6.2" stroke-linecap="square"/>
<text x="188.0" y="234.8" font-size="20.8">DEWPOINT</text>
<path d="M129.6 257.3 H171.3" stroke="#000" stroke-width="4.2" stroke-linecap="square"/>
<text x="188.0" y="264.9" font-size="20.8">SB PARCEL PATH</text>
<path d="M129.6 287.8 H171.3" stroke="#000" stroke-width="3.1" stroke-dasharray="11.6,5"/>
<text x="188.0" y="295.4" font-size="20.8">MU PARCEL PATH</text>
<rect x="129.6" y="311" width="41.7" height="14.6" fill="#d62728" fill-opacity="0.2"/>
<text x="188.0" y="325.9" font-size="20.8">SBCAPE</text>
<rect x="129.6" y="341" width="41.7" height="14.6" fill="#1f77b4" fill-opacity="0.2"/>
<text x="188.0" y="355.9" font-size="20.8">SBCIN</text>
<path d="M1461.2 134.5 L1414 115 L1400.3 131.5 L1414 115 L1419.9 117.5 L1406.2 133.9 L1419.9 117.5 L1425.8 119.9 L1412.1 136.3 L1425.8 119.9 L1431.7 122.3 L1418 138.8 L1431.7 122.3Z M1461.2 233.7 L1411.6 221.7 L1400.6 240 L1411.6 221.7 L1417.8 223.2 L1406.8 241.5 L1417.8 223.2 L1424 224.7 L1413 243 L1424 224.7 L1430.2 226.2 L1419.2 244.5 L1430.2 226.2Z M1461.2 328.8 L1410.7 321.8 L1414.2 342.9 L1423.3 323.5 L1429.6 324.4 L1420.5 343.8 L1429.6 324.4 L1435.9 325.3 L1431.4 335 L1435.9 325.3Z M1461.2 419.9 L1410.3 416.6 L1415.3 437.4 L1423 417.5 L1429.4 417.9 L1421.7 437.8 L1429.4 417.9 L1435.7 418.3 L1428.1 438.2 L1435.7 418.3 L1442.1 418.7 L1434.4 438.6 L1442.1 418.7Z M1461.2 505.3 L1410.3 502.4 L1415.5 523.2 L1423 503.1 L1429.4 503.5 L1421.8 523.5 L1429.4 503.5 L1435.7 503.9 L1428.2 523.9 L1435.7 503.9 L1442.1 504.2 L1434.6 524.3 L1442.1 504.2 L1448.5 504.6 L1441 524.6 L1448.5 504.6 L1454.8 504.9 L1451.1 515 L1454.8 504.9Z M1461.2 586.6 L1410.4 581.6 L1414.8 602.5 L1423.1 582.8 L1426.3 583.1 L1430.6 604.1 L1439 584.4 L1445.3 585 L1441.2 594.9 L1445.3 585Z M1461.2 663.8 L1410.8 655.8 L1413.9 676.9 L1423.4 657.8 L1426.6 658.3 L1429.7 679.4 L1439.2 660.3 L1445.5 661.3 L1436 680.5 L1445.5 661.3Z M1461.2 736 L1411.3 725.5 L1413.3 746.8 L1423.8 728.1 L1426.9 728.8 L1428.9 750.1 L1439.4 731.4 L1445.6 732.7 L1440.4 742.1 L1445.6 732.7Z M1461.2 803.9 L1411.7 791.5 L1412.9 812.9 L1424.1 794.6 L1427.2 795.4 L1428.4 816.8 L1439.6 798.5Z M1461.2 868.1 L1411.6 856.2 L1413 877.5 L1424 859.2 L1430.2 860.7 L1419.2 879 L1430.2 860.7 L1436.4 862.2 L1425.4 880.5 L1436.4 862.2 L1442.6 863.6 L1431.6 882 L1442.6 863.6 L1448.8 865.1 L1437.8 883.5 L1448.8 865.1Z M1461.2 928 L1411.4 916.9 L1413.2 938.2 L1423.9 919.6 L1430.1 921 L1419.4 939.6 L1430.1 921 L1436.3 922.4 L1425.6 941 L1436.3 922.4Z M1461.2 985.9 L1414.1 966.3 L1412.1 987.6 L1425.9 971.2 L1431.8 973.7 L1424.9 981.9 L1431.8 973.7Z M1461.2 1039.2 L1413.3 1021.6 L1412.3 1042.9 L1425.3 1026Z M1461.2 1089.8 L1412.3 1075.4 L1412.6 1096.8 L1424.5 1079 L1430.6 1080.8 L1424.7 1089.7 L1430.6 1080.8Z M1461.2 1138 L1412.3 1123.6 L1412.6 1145 L1424.5 1127.2Z M1461.2 1182.5 L1411.6 1170.7 L1400.6 1189 L1411.6 1170.7 L1417.8 1172.1 L1406.8 1190.5 L1417.8 1172.1 L1424 1173.6 L1413 1192 L1424 1173.6 L1430.2 1175.1 L1424.7 1184.3 L1430.2 1175.1Z M1461.2 1224.5 L1410.8 1216.5 L1401.3 1235.7 L1410.8 1216.5 L1417.1 1217.5 L1407.6 1236.7 L1417.1 1217.5 L1423.4 1218.5 L1413.9 1237.7 L1423.4 1218.5Z M1461.2 1265.1 L1411.1 1255.2 L1400.9 1274 L1411.1 1255.2 L1417.4 1256.4 L1407.2 1275.2 L1417.4 1256.4Z M1461.2 1302.3 L1411.2 1292.2 L1400.9 1311 L1411.2 1292.2 L1417.4 1293.5 L1407.1 1312.2 L1417.4 1293.5 L1423.7 1294.7 L1418.5 1304.1 L1423.7 1294.7Z M1461.2 1337.9 L1412.1 1324 L1400.4 1341.9 L1412.1 1324 L1418.2 1325.8 L1406.5 1343.7 L1418.2 1325.8Z M1461.2 1370.5 L1414.2 1350.7 L1400.4 1367 L1414.2 1350.7 L1420.1 1353.2 L1406.3 1369.5 L1420.1 1353.2Z M1461.2 1401.8 L1413.1 1384.7 L1400.3 1401.8 L1413.1 1384.7 L1419.1 1386.8 L1406.3 1403.9 L1419.1 1386.8Z M1461.2 1457.1 L1413.7 1438.5 L1400.3 1455.2 L1413.7 1438.5 L1419.6 1440.9 L1406.2 1457.6 L1419.6 1440.9 L1425.6 1443.2 L1418.9 1451.5 L1425.6 1443.2Z M1461.2 1482.4 L1414.6 1461.7 L1400.5 1477.8 L1414.6 1461.7 L1420.4 1464.3 L1406.3 1480.3 L1420.4 1464.3 L1426.2 1466.9 L1419.2 1474.9 L1426.2 1466.9Z M1461.2 1526.9 L1413.7 1508.2 L1400.3 1524.9 L1413.7 1508.2 L1419.6 1510.6 L1406.2 1527.2 L1419.6 1510.6Z M1461.2 1565.7 L1420.8 1534.6 L1403.3 1546.8 L1420.8 1534.6Z M1461.2 1612.7 L1512 1617.6 L1520.3 1597.8 L1512 1617.6Z M1461.2 1648.4 L1489.2 1691.1 L1509.8 1685.2 L1489.2 1691.1 L1485.7 1685.8 L1496 1682.8 L1485.7 1685.8Z M1461.2 1689.6 L1462.4 1740.6 L1483 1746.5 L1462.4 1740.6Z" fill="#000" stroke="#000" stroke-width="2.1" stroke-linejoin="round"/>
<defs><clipPath id="hc"><rect x="1569.0" y="141.05" width="863.8" height="863.8"/></clipPath></defs>
<g clip-path="url(#hc)">
<circle cx="2000.95" cy="573.0" r="54" fill="none" stroke="#dcdcdc" stroke-width="2.08" stroke-dasharray="7.7,3.3"/>
<circle cx="2000.95" cy="573.0" r="162" fill="none" stroke="#dcdcdc" stroke-width="2.08" stroke-dasharray="7.7,3.3"/>
<circle cx="2000.95" cy="573.0" r="269.9" fill="none" stroke="#dcdcdc" stroke-width="2.08" stroke-dasharray="7.7,3.3"/>
<circle cx="2000.95" cy="573.0" r="377.9" fill="none" stroke="#dcdcdc" stroke-width="2.08" stroke-dasharray="7.7,3.3"/>
<circle cx="2000.95" cy="573.0" r="485.9" fill="none" stroke="#dcdcdc" stroke-width="2.08" stroke-dasharray="7.7,3.3"/>
<circle cx="2000.95" cy="573.0" r="108" fill="none" stroke="#b5b5b5" stroke-width="2.9"/>
<circle cx="2000.95" cy="573.0" r="216" fill="none" stroke="#b5b5b5" stroke-width="2.9"/>
<circle cx="2000.95" cy="573.0" r="323.9" fill="none" stroke="#b5b5b5" stroke-width="2.9"/>
<circle cx="2000.95" cy="573.0" r="431.9" fill="none" stroke="#b5b5b5" stroke-width="2.9"/>
<circle cx="2000.95" cy="573.0" r="539.9" fill="none" stroke="#b5b5b5" stroke-width="2.9"/>
<path d="M1569.0 573.4 H2432.85 M2001.4 141.05 V1004.9" stroke="#b1b1b1" stroke-width="2.9"/>
<text x="2054.7" y="570.6" font-size="20.8" font-weight="bold" fill="#b0b0b0">10</text>
<text x="2001.2" y="516.6" font-size="20.8" font-weight="bold" fill="#b0b0b0">10</text>
<text x="2108.7" y="570.6" font-size="20.8" font-weight="bold" fill="#b0b0b0">20</text>
<text x="2001.2" y="462.6" font-size="20.8" font-weight="bold" fill="#b0b0b0">20</text>
<text x="2162.7" y="570.6" font-size="20.8" font-weight="bold" fill="#b0b0b0">30</text>
<text x="2001.2" y="408.6" font-size="20.8" font-weight="bold" fill="#b0b0b0">30</text>
<text x="2216.7" y="570.6" font-size="20.8" font-weight="bold" fill="#b0b0b0">40</text>
<text x="2001.2" y="354.6" font-size="20.8" font-weight="bold" fill="#b0b0b0">40</text>
<text x="2270.7" y="570.6" font-size="20.8" font-weight="bold" fill="#b0b0b0">50</text>
<text x="2001.2" y="300.7" font-size="20.8" font-weight="bold" fill="#b0b0b0">50</text>
<text x="2324.7" y="570.6" font-size="20.8" font-weight="bold" fill="#b0b0b0">60</text>
<text x="2001.2" y="246.7" font-size="20.8" font-weight="bold" fill="#b0b0b0">60</text>
<text x="2378.7" y="570.6" font-size="20.8" font-weight="bold" fill="#b0b0b0">70</text>
<text x="2001.2" y="192.7" font-size="20.8" font-weight="bold" fill="#b0b0b0">70</text>
<path d="M1998.5 518.6 L1986 499.7 M1986 499.7 L1979.5 494.5 M1979.5 494.5 L1973.4 492.4 M1973.4 492.4 L1966.2 492.1 M1966.2 492.1 L1961.6 493.6 M1961.6 493.6 L1959.8 498.2 M1959.8 498.2 L1960.1 511.5 M1960.1 511.5 L1960.8 529.3 M1960.8 529.3 L1961.9 547.2 M1961.9 547.2 L1961.3 551.3" fill="none" stroke="#f00" stroke-width="12.5" stroke-linecap="butt"/>
<path d="M1961.3 551.3 L1957.6 567.3 M1957.6 567.3 L1970.9 590.3 M1970.9 590.3 L2006.3 608.4 M2006.3 608.4 L2042.9 605.6 M2042.9 605.6 L2072.2 602.5 M2072.2 602.5 L2089.4 609.5 M2089.4 609.5 L2095.1 616.7 M2095.1 616.7 L2113.9 624.5 M2113.9 624.5 L2132.1 625.5" fill="none" stroke="#008000" stroke-width="12.5" stroke-linecap="butt"/>
<path d="M2132.1 625.5 L2133.3 620.1 M2133.3 620.1 L2127.7 615.1 M2127.7 615.1 L2095.1 612.6 M2095.1 612.6 L2113.5 598 M2113.5 598 L2156.5 598.9 M2156.5 598.9 L2165.9 606" fill="none" stroke="#ffff00" stroke-width="12.5" stroke-linecap="butt"/>
<path d="M2165.9 606 L2177.9 615.7 M2177.9 615.7 L2270.1 648.8 M2270.1 648.8 L2289.6 663.1 M2289.6 663.1 L2243.5 663.7 M2243.5 663.7 L2268.8 682.6 M2268.8 682.6 L2358.6 661.5" fill="none" stroke="#0000ff" stroke-width="12.5" stroke-linecap="butt"/>
<path d="M2358.6 661.5 L2364.8 661.1 M2364.8 661.1 L2460 685.5" fill="none" stroke="#ff00ff" stroke-width="12.5" stroke-linecap="butt"/>
<path d="M2001 573 L2089.6 528 L2086.9 522.9 L2105.4 520.3 L2092.3 533.2 L2089.6 528Z" fill="#808080" fill-opacity="0.62" stroke="#808080" stroke-opacity="0.62" stroke-width="2.7" stroke-linejoin="miter" stroke-miterlimit="10"/>
<text x="2113.9" y="527.7" font-size="26.5" font-weight="bold" fill="#646464">LM</text>
</g>
<rect x="1569.0" y="141.05" width="863.8" height="863.8" fill="none" stroke="#000" stroke-width="1.7"/>
<rect x="1579" y="151.3" width="267.9" height="66.7" rx="4.2" fill="#fff" fill-opacity="0.8" stroke="#cccccc" stroke-width="2.08"/>
<rect x="1588.5" y="162.3" width="41.7" height="12.3" fill="#1f77b4"/>
<text x="1645.5" y="175.7" font-size="20.8">0-12km WIND</text>
<rect x="1587.6" y="190.7" width="41.7" height="15.5" fill="#808080" fill-opacity="0.62" stroke="#808080" stroke-opacity="0.62" stroke-width="2.7"/>
<text x="1645.5" y="206.9" font-size="20.8">Bunkers LM Vector</text>
<rect x="1541.8" y="1059" width="918.4" height="719.7" fill="none" stroke="#000" stroke-width="2.08"/>
<text x="1568.8" y="1112.7" font-size="27.1" font-weight="bold">SBCAPE:</text>
<text x="1731.3" y="1112.7" font-size="27.1" font-weight="bold" fill="#ff4500">0 J/kg</text>
<text x="1568.8" y="1184.7" font-size="27.1" font-weight="bold">SBCIN:</text>
<text x="1731.3" y="1184.7" font-size="27.1" font-weight="bold" fill="#add8e6">0 J/kg</text>
<text x="1568.8" y="1256.7" font-size="27.1" font-weight="bold">MLCAPE:</text>
<text x="1731.3" y="1256.7" font-size="27.1" font-weight="bold" fill="#ff4500">0 J/kg</text>
<text x="1568.8" y="1328.7" font-size="27.1" font-weight="bold">MLCIN:</text>
<text x="1731.3" y="1328.7" font-size="27.1" font-weight="bold" fill="#add8e6">0 J/kg</text>
<text x="1568.8" y="1400.7" font-size="27.1" font-weight="bold">MUCAPE:</text>
<text x="1731.3" y="1400.7" font-size="27.1" font-weight="bold" fill="#ff4500">217 J/kg</text>
<text x="1568.8" y="1472.8" font-size="27.1" font-weight="bold">MUCIN:</text>
<text x="1731.3" y="1472.8" font-size="27.1" font-weight="bold" fill="#add8e6">-5 J/kg</text>
<text x="1568.8" y="1544.8" font-size="27.1" font-weight="bold">DCAPE:</text>
<text x="1731.3" y="1544.8" font-size="27.1" font-weight="bold" fill="#ff4500">287 J/kg</text>
<text x="1568.8" y="1616.8" font-size="27.1" font-weight="bold">K-INDEX:</text>
<text x="1731.3" y="1616.8" font-size="27.1" font-weight="bold" fill="#ff4500">36 °C</text>
<text x="1568.8" y="1688.8" font-size="27.1" font-weight="bold">LI:</text>
<text x="1731.3" y="1688.8" font-size="27.1" font-weight="bold" fill="#000">3.2</text>
<text x="1568.8" y="1760.8" font-size="27.1" font-weight="bold">SI:</text>
<text x="1731.3" y="1760.8" font-size="27.1" font-weight="bold" fill="#000">-0.9</text>
<text x="1919.6" y="1112.7" font-size="27.1" font-weight="bold">0-1km SRH:</text>
<text x="2134.9" y="1112.7" font-size="27.1" font-weight="bold" fill="#000080">-85 m²/s²</text>
<text x="1919.6" y="1193.7" font-size="27.1" font-weight="bold">0-1km SHR:</text>
<text x="2134.9" y="1193.7" font-size="27.1" font-weight="bold" fill="#0000ff">12 kn</text>
<text x="1919.6" y="1274.7" font-size="27.1" font-weight="bold">0-3km SRH:</text>
<text x="2134.9" y="1274.7" font-size="27.1" font-weight="bold" fill="#000080">-261 m²/s²</text>
<text x="1919.6" y="1355.7" font-size="27.1" font-weight="bold">0-6km SHR:</text>
<text x="2134.9" y="1355.7" font-size="27.1" font-weight="bold" fill="#0000ff">36 kn</text>
<text x="1919.6" y="1436.8" font-size="27.1" font-weight="bold">SIG TORN:</text>
<text x="2134.9" y="1436.8" font-size="27.1" font-weight="bold" fill="#ff4500">0.0</text>
<text x="1919.6" y="1517.8" font-size="27.1" font-weight="bold">SCP:</text>
<text x="2134.9" y="1517.8" font-size="27.1" font-weight="bold" fill="#ff4500">1.1</text>
<text x="1919.6" y="1598.8" font-size="27.1" font-weight="bold">LR 700-500:</text>
<text x="2134.9" y="1598.8" font-size="27.1" font-weight="bold" fill="#ff4500">6.3 Δ°C·K/km/m</text>
<text x="1919.6" y="1679.8" font-size="27.1" font-weight="bold">LCL HGT:</text>
<text x="2134.9" y="1679.8" font-size="27.1" font-weight="bold" fill="#ff4500">[184] m</text>
<text x="1919.6" y="1760.8" font-size="27.1" font-weight="bold">PW:</text>
<text x="2134.9" y="1760.8" font-size="27.1" font-weight="bold" fill="#000080">44.2 mm</text>
<text x="1326.6" y="87.0" font-size="45.8" font-weight="bold" text-anchor="middle">Pelotas RS (31.62°S, 52.50°W) | Validade: 23 Apr 2026 - 06Z | MONAN-3Km</text>
</svg></body></html>
